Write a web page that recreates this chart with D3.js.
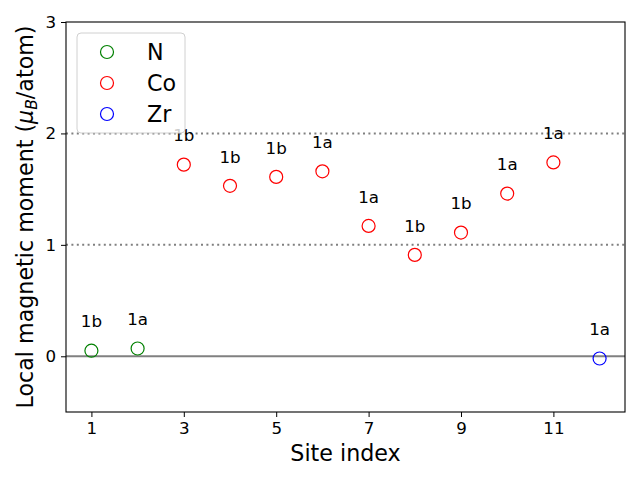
<!DOCTYPE html>
<html>
<head>
<meta charset="utf-8">
<script src="https://cdn.jsdelivr.net/npm/d3@7"></script>
<style>
  body { margin: 0; background: #fff; }
  text { font-family: "DejaVu Sans", sans-serif; }
</style>
</head>
<body>
<div id="chart"></div>
<script>
var width = 640, height = 480;
var margin = {top: 22, right: 15, bottom: 68, left: 66};

var siteIndex = [1, 2, 3, 4, 5, 6, 7, 8, 9, 10, 11, 12];
var moments = [0.05, 0.07, 1.72, 1.53, 1.61, 1.66, 1.17, 0.91, 1.11, 1.46, 1.74, -0.02];
var species = ["N", "N", "Co", "Co", "Co", "Co", "Co", "Co", "Co", "Co", "Co", "Zr"];
var wyckoff = ["1b", "1a", "1b", "1b", "1b", "1a", "1a", "1b", "1b", "1a", "1a", "1a"];
var elements = ["N", "Co", "Zr"];
var elementColors = ["green", "red", "blue"];
var xTicks = [1, 3, 5, 7, 9, 11];
var yTicks = [0, 1, 2, 3];
var refLines = [1, 2];

var color = d3.scaleOrdinal().domain(elements).range(elementColors);

var svg = d3.select("#chart").append("svg")
    .attr("width", width)
    .attr("height", height);

var x = d3.scaleLinear().domain([0.45, 12.55]).range([margin.left, width - margin.right]);
var y = d3.scaleLinear().domain([-0.5, 3]).range([height - margin.bottom, margin.top]);

// reference lines
svg.selectAll(".ref")
    .data(refLines)
  .enter().append("line")
    .attr("x1", x.range()[0]).attr("x2", x.range()[1])
    .attr("y1", function(d) { return y(d); })
    .attr("y2", function(d) { return y(d); })
    .attr("stroke", "#808080")
    .attr("stroke-width", 2)
    .attr("stroke-dasharray", "2,3.4");

svg.append("line")
    .attr("x1", x.range()[0]).attr("x2", x.range()[1])
    .attr("y1", y(0)).attr("y2", y(0))
    .attr("stroke", "#808080")
    .attr("stroke-width", 2);

// points
svg.selectAll(".pt")
    .data(siteIndex)
  .enter().append("circle")
    .attr("cx", function(d) { return x(d); })
    .attr("cy", function(d, i) { return y(moments[i]); })
    .attr("r", 6.5)
    .attr("fill", "none")
    .attr("stroke", function(d, i) { return color(species[i]); })
    .attr("stroke-width", 1.2);

// annotations
svg.selectAll(".lab")
    .data(siteIndex)
  .enter().append("text")
    .attr("x", function(d) { return x(d); })
    .attr("y", function(d, i) { return y(moments[i] + 0.2) - 1; })
    .attr("text-anchor", "middle")
    .style("font-size", "16.7px")
    .text(function(d, i) { return wyckoff[i]; });

// axes
var xAxis = svg.append("g")
    .attr("transform", "translate(0," + (height - margin.bottom) + ")")
    .call(d3.axisBottom(x).tickValues(xTicks).tickSize(5).tickPadding(5).tickFormat(d3.format("d")));
var yAxis = svg.append("g")
    .attr("transform", "translate(" + margin.left + ",0)")
    .call(d3.axisLeft(y).tickValues(yTicks).tickSize(5).tickPadding(5).tickFormat(d3.format("d")));
[xAxis, yAxis].forEach(function(a) {
  a.select(".domain").remove();
  a.selectAll("text").style("font-size", "16.7px").style("font-family", "DejaVu Sans").attr("fill", "#000");
  a.selectAll("line").attr("stroke", "#000").attr("stroke-width", 1);
});

svg.append("rect")
    .attr("x", margin.left).attr("y", margin.top)
    .attr("width", width - margin.left - margin.right)
    .attr("height", height - margin.top - margin.bottom)
    .attr("fill", "none")
    .attr("stroke", "#000")
    .attr("stroke-width", 1.1);

svg.append("text")
    .attr("x", (margin.left + width - margin.right) / 2)
    .attr("y", 461)
    .attr("text-anchor", "middle")
    .style("font-size", "22.2px")
    .text("Site index");

var yl = svg.append("text")
    .attr("transform", "translate(33," + ((margin.top + height - margin.bottom) / 2) + ") rotate(-90)")
    .attr("text-anchor", "middle")
    .style("font-size", "22.2px");
yl.append("tspan").text("Local magnetic moment (");
yl.append("tspan").style("font-style", "italic").text("μ");
yl.append("tspan").style("font-style", "italic").style("font-size", "15.5px").attr("dy", 4).text("B");
yl.append("tspan").attr("dy", -4).text("/atom)");

// legend
var legend = svg.append("g").attr("transform", "translate(77,33)");
legend.append("rect")
    .attr("width", 108).attr("height", 100)
    .attr("rx", 4)
    .attr("fill", "#fff").attr("fill-opacity", 0.8)
    .attr("stroke", "#d0d0d0");

var legendItem = legend.selectAll(".legend")
    .data(elements)
  .enter().append("g")
    .attr("transform", function(d, i) { return "translate(0," + (19 + i * 31) + ")"; });
legendItem.append("circle")
    .attr("cx", 30).attr("r", 6.5)
    .attr("fill", "none")
    .attr("stroke", function(d) { return color(d); })
    .attr("stroke-width", 1.2);
legendItem.append("text")
    .attr("x", 70).attr("y", 8)
    .style("font-size", "22.2px")
    .text(function(d) { return d; });
</script>
</body>
</html>
